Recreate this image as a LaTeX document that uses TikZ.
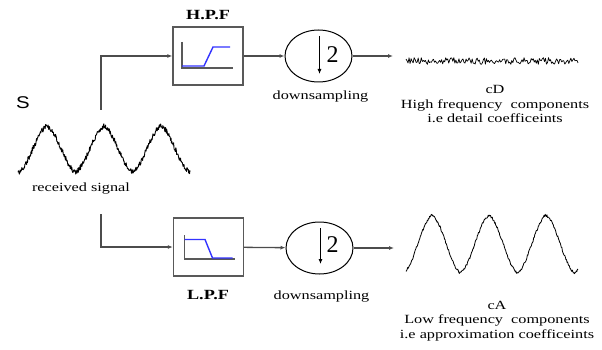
\documentclass[tikz,border=0pt]{standalone}
\usepackage{fontspec}
\setmainfont{Liberation Serif}
\newfontfamily\arialfont{Liberation Sans}
\usetikzlibrary{arrows.meta,shapes.geometric,calc}

\begin{document}
\begin{tikzpicture}[x=1pt, y=-1pt,
  wire/.style={draw=black!70, line width=1.3pt, -{Latex[length=5pt,width=4pt]}},
  filterbox/.style={draw=black!65, line width=1.3pt, minimum width=70pt, minimum height=58pt, inner sep=0pt},
  downbox/.style={ellipse, draw, line width=1pt, minimum width=67pt, minimum height=52pt},
  caption/.style={font=\fontsize{12.5}{14.5}\selectfont, align=center, xscale=1.3, inner sep=0pt},
  tag/.style={font=\bfseries\fontsize{14}{16}\selectfont, xscale=1.3, inner sep=0pt},
  axis/.style={draw=black!65, line width=1.2pt},
  resp/.style={draw=blue!80, line width=1.4pt},
  wave/.style={line width=0.9pt, line join=round}]
\useasboundingbox (0,0) rectangle (602,350);
% Received signal
\node[font=\arialfont\fontsize{17}{17}\selectfont, xscale=1.2, inner sep=0pt] (S) at (23,103) {S};
\pgfmathsetseed{7}
\draw[wave] plot[domain=18:190, samples=400]
  (\x, {149 - 23*(0.7*cos(6.316*(\x-47)) + 0.3*(1-abs(mod(6.316*(\x-47)+540,360)-180)/90)) + 2.6*rand});
\node[caption] (rx) at (81,189) {received signal};
\coordinate (tapH) at (101,110);
\coordinate (tapL) at (101,214);
% Filters
\node[filterbox] (hpf) at (208,56) {};
\node[tag] (hpflabel) at (208,15) {H.P.F};
\node[filterbox] (lpf) at (208.5,247) {};
\node[tag] (lpflabel) at (208,295) {L.P.F};
\draw[axis] ($(hpf)+(-26,-14)$) |- ($(hpf)+(25,12)$);
\draw[resp] ($(hpf)+(-26,10)$) -- ($(hpf)+(-4,10)$) -- ($(hpf)+(5,-9)$) -- ($(hpf)+(22,-9)$);
\draw[axis] ($(lpf)+(-24,-12)$) |- ($(lpf)+(26,12)$);
\draw[resp] ($(lpf)+(-24,-7.5)$) -- ($(lpf)+(-3.5,-7.5)$) -- ($(lpf)+(4,11)$) -- ($(lpf)+(24,11)$);
% Downsampling
\node[downbox] (dsH) at (318.5,56) {};
\node[caption] (dsHlabel) at (320.5,96.5) {downsampling};
\draw[-{Latex[length=5pt,width=4pt]}, line width=0.8pt] ($(dsH)+(1,-20)$) -- ($(dsH)+(1,18)$);
\node[font=\fontsize{24}{24}\selectfont, inner sep=0pt] (twoH) at ($(dsH)+(14,-1)$) {2};
\node[downbox] (dsL) at (319.5,248) {};
\node[caption] (dsLlabel) at (321.5,296.5) {downsampling};
\draw[-{Latex[length=5pt,width=4pt]}, line width=0.8pt] ($(dsL)+(1,-20)$) -- ($(dsL)+(1,16)$);
\node[font=\fontsize{24}{24}\selectfont, inner sep=0pt] (twoL) at ($(dsL)+(13,-3)$) {2};
% Connections
\draw[wire] (tapH) |- (hpf);
\draw[wire] (tapL) |- (lpf);
\draw[wire] (hpf) -- (dsH);
\draw[wire] (lpf) -- (dsL);
\coordinate (cDin) at (393,56);
\coordinate (cAin) at (394,248);
\draw[wire] (dsH) -- (cDin);
\draw[wire] (dsL) -- (cAin);
% Outputs
\draw[line width=0.7pt, line join=round] plot[domain=406:578, samples=170] (\x, {61 + 3.4*rand});
\draw[wave, line width=0.8pt] plot[domain=406:578, samples=300]
  (\x, {244 - 29*(0.7*cos(6.316*(\x-432)) + 0.3*(1-abs(mod(6.316*(\x-432)+540,360)-180)/90)) + 1.3*rand});
\node[caption] (cDtext) at (495,104) {cD\\High frequency~ components\\i.e detail coefficeints};
\node[caption] (cAtext) at (497,321) {cA\\Low frequency~ components\\i.e approximation coefficeints};
\end{tikzpicture}
\end{document}
